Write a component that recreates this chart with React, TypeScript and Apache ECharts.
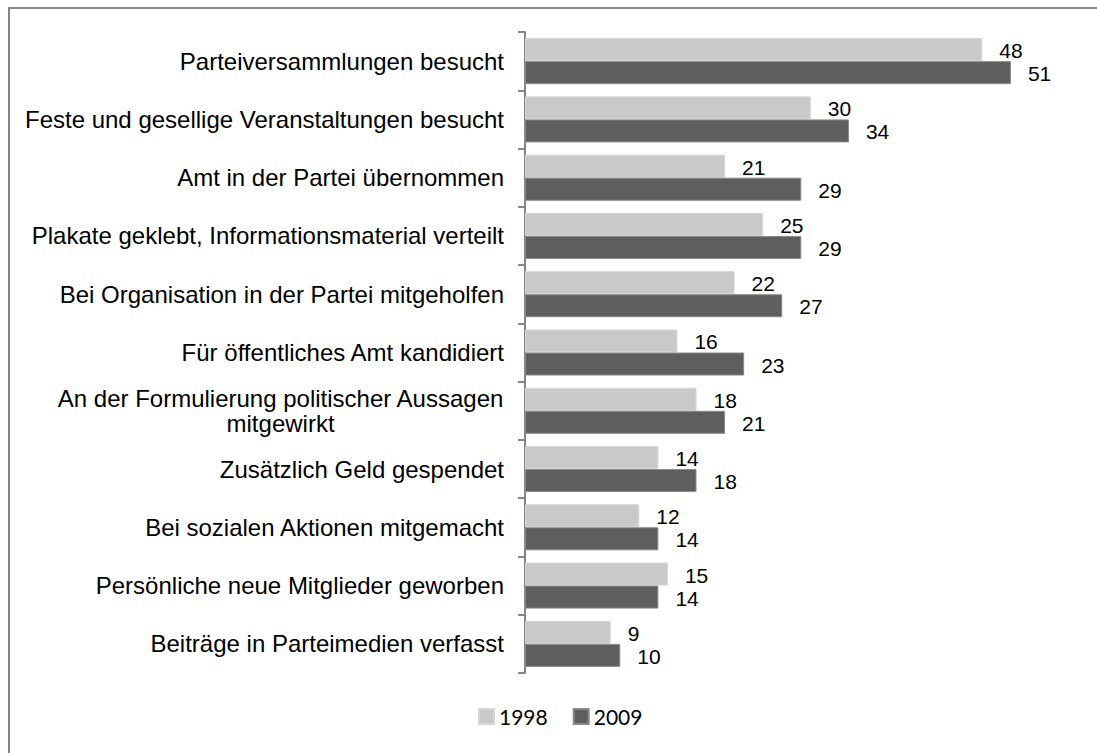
import React, { useEffect, useRef } from "react";
import * as echarts from "echarts";

const categories = [
  "Parteiversammlungen besucht",
  "Feste und gesellige Veranstaltungen besucht",
  "Amt in der Partei übernommen",
  "Plakate geklebt, Informationsmaterial verteilt",
  "Bei Organisation in der Partei mitgeholfen",
  "Für öffentliches Amt kandidiert",
  "An der Formulierung politischer Aussagen\nmitgewirkt",
  "Zusätzlich Geld gespendet",
  "Bei sozialen Aktionen mitgemacht",
  "Persönliche neue Mitglieder geworben",
  "Beiträge in Parteimedien verfasst",
];
const values1998 = [48, 30, 21, 25, 22, 16, 18, 14, 12, 15, 9];
const values2009 = [51, 34, 29, 29, 27, 23, 21, 18, 14, 14, 10];
const seriesNames = ["1998", "2009"];

export default function App() {
  const ref = useRef<HTMLDivElement>(null);
  useEffect(() => {
    if (!ref.current) return;
    const chart = echarts.init(ref.current, null, { renderer: "svg" });
    const labelFont = "'Liberation Sans', Arial, sans-serif";
    const mkLabel = {
      show: true,
      position: "right",
      distance: 17,
      color: "#000",
      fontSize: 21,
      fontFamily: labelFont,
      offset: [0, 1],
    };
    chart.setOption({
      animation: false,
      backgroundColor: "#fff",
      graphic: [
        {
          type: "rect",
          silent: true,
          z: -10,
          shape: { x: 9, y: 8, width: 1300, height: 1000 },
          style: { fill: "none", stroke: "#868686", lineWidth: 2 },
        },
      ],
      legend: {
        left: 478,
        top: 706,
        padding: 0,
        icon: "rect",
        itemWidth: 15,
        itemHeight: 15,
        itemGap: 25,
        data: seriesNames,
        textStyle: {
          fontSize: 21,
          fontFamily: "Lato, 'Open Sans', sans-serif",
          color: "#000",
        },
      },
      grid: { left: 525, top: 32, width: 524, height: 641, containLabel: false },
      xAxis: {
        type: "value",
        min: 0,
        max: 55,
        show: false,
      },
      yAxis: {
        type: "category",
        data: categories,
        inverse: true,
        axisLine: { show: true, lineStyle: { color: "#868686", width: 2 } },
        axisTick: { show: true, length: 7, lineStyle: { color: "#868686", width: 2 } },
        axisLabel: {
          interval: 0,
          margin: 21,
          color: "#000",
          fontSize: 24,
          fontFamily: labelFont,
          lineHeight: 25,
          formatter: (v: string) =>
            v.indexOf("\n") >= 0
              ? v
                  .split("\n")
                  .map((s) => "{c|" + s + "}")
                  .join("\n")
              : v,
          rich: {
            c: {
              align: "center",
              fontSize: 24,
              fontFamily: labelFont,
              color: "#000",
              lineHeight: 25,
            },
          },
        },
      },
      series: [
        {
          name: seriesNames[0],
          type: "bar",
          data: values1998,
          barGap: "0%",
          barCategoryGap: "21%",
          itemStyle: { color: "#c9c9c9", borderColor: "#d6d6d6", borderWidth: 1 },
          label: mkLabel,
        },
        {
          name: seriesNames[1],
          type: "bar",
          data: values2009,
          barGap: "0%",
          barCategoryGap: "21%",
          itemStyle: { color: "#5e5e5e", borderColor: "#8a8a8a", borderWidth: 1 },
          label: mkLabel,
        },
      ],
    });
    return () => chart.dispose();
  }, []);
  return (
    <div
      ref={ref}
      style={{ position: "absolute", left: 0, top: 0, width: 1097, height: 753 }}
    />
  );
}
